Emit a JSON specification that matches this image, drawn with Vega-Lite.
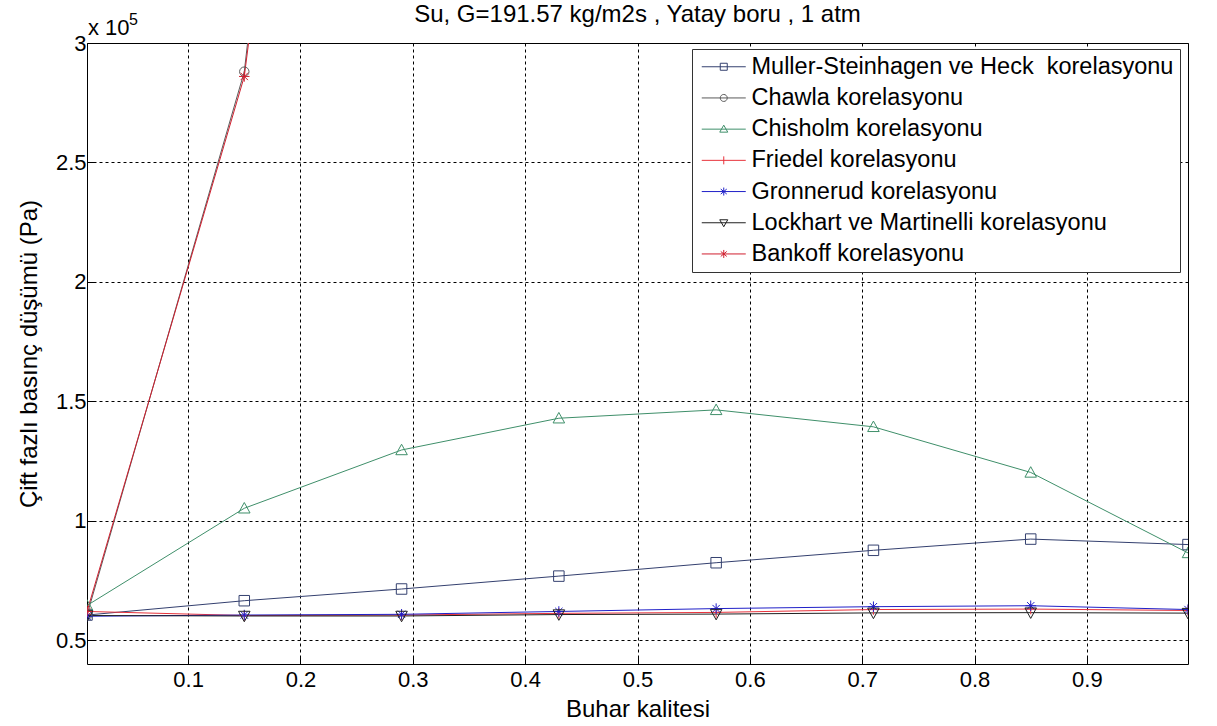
{
  "$schema": "https://vega.github.io/schema/vega-lite/v6.json",
  "width": 1101,
  "height": 621,
  "autosize": {"type": "none"},
  "padding": {"left": 87, "top": 43, "right": 29, "bottom": 62},
  "background": "white",
  "config": {
    "view": {"stroke": "black", "strokeWidth": 1},
    "font": "Liberation Sans",
    "axis": {
      "labelFont": "Liberation Sans", "titleFont": "Liberation Sans",
      "labelColor": "black", "titleColor": "black",
      "labelFontSize": 22, "titleFontSize": 24, "titleFontWeight": "normal",
      "grid": true, "gridColor": "black", "gridDash": [3, 3], "gridOpacity": 1, "gridWidth": 1,
      "domain": false, "ticks": true, "tickColor": "black", "tickSize": -7
    }
  },
  "title": {
    "text": "Su, G=191.57 kg/m2s , Yatay boru , 1 atm",
    "font": "Liberation Sans", "fontSize": 24, "fontWeight": "normal", "color": "black",
    "anchor": "middle", "frame": "group", "offset": -34, "baseline": "alphabetic"
  },
  "data": {"values": [
    {"x": 0.01, "y": 60500, "s": "Muller-Steinhagen ve Heck \u00a0korelasyonu"},
    {"x": 0.15, "y": 66500, "s": "Muller-Steinhagen ve Heck \u00a0korelasyonu"},
    {"x": 0.29, "y": 71400, "s": "Muller-Steinhagen ve Heck \u00a0korelasyonu"},
    {"x": 0.43, "y": 76800, "s": "Muller-Steinhagen ve Heck \u00a0korelasyonu"},
    {"x": 0.57, "y": 82400, "s": "Muller-Steinhagen ve Heck \u00a0korelasyonu"},
    {"x": 0.71, "y": 87600, "s": "Muller-Steinhagen ve Heck \u00a0korelasyonu"},
    {"x": 0.85, "y": 92300, "s": "Muller-Steinhagen ve Heck \u00a0korelasyonu"},
    {"x": 0.99, "y": 90000, "s": "Muller-Steinhagen ve Heck \u00a0korelasyonu"},
    {"x": 0.01, "y": 60500, "s": "Chawla korelasyonu"},
    {"x": 0.15, "y": 288000, "s": "Chawla korelasyonu"},
    {"x": 0.29, "y": 860000, "s": "Chawla korelasyonu"},
    {"x": 0.43, "y": 1520000, "s": "Chawla korelasyonu"},
    {"x": 0.57, "y": 2200000, "s": "Chawla korelasyonu"},
    {"x": 0.71, "y": 2900000, "s": "Chawla korelasyonu"},
    {"x": 0.85, "y": 3600000, "s": "Chawla korelasyonu"},
    {"x": 0.99, "y": 4300000, "s": "Chawla korelasyonu"},
    {"x": 0.01, "y": 64500, "s": "Chisholm korelasyonu"},
    {"x": 0.15, "y": 105200, "s": "Chisholm korelasyonu"},
    {"x": 0.29, "y": 129600, "s": "Chisholm korelasyonu"},
    {"x": 0.43, "y": 142900, "s": "Chisholm korelasyonu"},
    {"x": 0.57, "y": 146400, "s": "Chisholm korelasyonu"},
    {"x": 0.71, "y": 139300, "s": "Chisholm korelasyonu"},
    {"x": 0.85, "y": 120200, "s": "Chisholm korelasyonu"},
    {"x": 0.99, "y": 86500, "s": "Chisholm korelasyonu"},
    {"x": 0.01, "y": 62000, "s": "Friedel korelasyonu"},
    {"x": 0.15, "y": 60300, "s": "Friedel korelasyonu"},
    {"x": 0.29, "y": 60500, "s": "Friedel korelasyonu"},
    {"x": 0.43, "y": 61200, "s": "Friedel korelasyonu"},
    {"x": 0.57, "y": 61600, "s": "Friedel korelasyonu"},
    {"x": 0.71, "y": 62800, "s": "Friedel korelasyonu"},
    {"x": 0.85, "y": 63000, "s": "Friedel korelasyonu"},
    {"x": 0.99, "y": 62400, "s": "Friedel korelasyonu"},
    {"x": 0.01, "y": 60000, "s": "Gronnerud korelasyonu"},
    {"x": 0.15, "y": 60500, "s": "Gronnerud korelasyonu"},
    {"x": 0.29, "y": 60800, "s": "Gronnerud korelasyonu"},
    {"x": 0.43, "y": 62000, "s": "Gronnerud korelasyonu"},
    {"x": 0.57, "y": 63200, "s": "Gronnerud korelasyonu"},
    {"x": 0.71, "y": 64000, "s": "Gronnerud korelasyonu"},
    {"x": 0.85, "y": 64400, "s": "Gronnerud korelasyonu"},
    {"x": 0.99, "y": 62800, "s": "Gronnerud korelasyonu"},
    {"x": 0.01, "y": 60300, "s": "Lockhart ve Martinelli korelasyonu"},
    {"x": 0.15, "y": 60100, "s": "Lockhart ve Martinelli korelasyonu"},
    {"x": 0.29, "y": 60100, "s": "Lockhart ve Martinelli korelasyonu"},
    {"x": 0.43, "y": 60700, "s": "Lockhart ve Martinelli korelasyonu"},
    {"x": 0.57, "y": 60900, "s": "Lockhart ve Martinelli korelasyonu"},
    {"x": 0.71, "y": 61400, "s": "Lockhart ve Martinelli korelasyonu"},
    {"x": 0.85, "y": 61500, "s": "Lockhart ve Martinelli korelasyonu"},
    {"x": 0.99, "y": 61300, "s": "Lockhart ve Martinelli korelasyonu"},
    {"x": 0.01, "y": 62000, "s": "Bankoff korelasyonu"},
    {"x": 0.15, "y": 286000, "s": "Bankoff korelasyonu"},
    {"x": 0.29, "y": 800000, "s": "Bankoff korelasyonu"},
    {"x": 0.43, "y": 1400000, "s": "Bankoff korelasyonu"},
    {"x": 0.57, "y": 2000000, "s": "Bankoff korelasyonu"},
    {"x": 0.71, "y": 2600000, "s": "Bankoff korelasyonu"},
    {"x": 0.85, "y": 3200000, "s": "Bankoff korelasyonu"},
    {"x": 0.99, "y": 3800000, "s": "Bankoff korelasyonu"}
  ]},
  "encoding": {
    "x": {"field": "x", "type": "quantitative",
      "scale": {"domain": [0.01, 0.99], "nice": false, "zero": false},
      "axis": {"title": "Buhar kalitesi", "values": [0.1, 0.2, 0.3, 0.4, 0.5, 0.6, 0.7, 0.8, 0.9], "labelPadding": 12, "titlePadding": 7}},
    "y": {"field": "y", "type": "quantitative",
      "scale": {"domain": [40000, 300000], "nice": false, "zero": false},
      "axis": {"title": "Çift fazlı basınç düşümü (Pa)", "values": [50000, 100000, 150000, 200000, 250000, 300000],
        "labelExpr": "'' + (datum.value / 100000)", "labelPadding": 8, "titlePadding": 14}}
  },
  "layer": [
    {
      "mark": {"type": "line", "clip": true, "strokeWidth": 1},
      "encoding": {
        "color": {"field": "s", "type": "nominal", "legend": null,
          "scale": {"domain": ["Muller-Steinhagen ve Heck \u00a0korelasyonu", "Chawla korelasyonu", "Chisholm korelasyonu", "Friedel korelasyonu", "Gronnerud korelasyonu", "Lockhart ve Martinelli korelasyonu", "Bankoff korelasyonu"],
            "range": ["#34406f", "#5a5a5a", "#3f8f6a", "#e8333c", "#2020c8", "#202020", "#d01f2f"]}}
      }
    },
    {
      "mark": {"type": "point", "clip": true, "filled": false, "strokeWidth": 1, "size": 110, "opacity": 1},
      "encoding": {
        "color": {"field": "s", "type": "nominal", "legend": null,
          "scale": {"domain": ["Muller-Steinhagen ve Heck \u00a0korelasyonu", "Chawla korelasyonu", "Chisholm korelasyonu", "Friedel korelasyonu", "Gronnerud korelasyonu", "Lockhart ve Martinelli korelasyonu", "Bankoff korelasyonu"],
            "range": ["#34406f", "#5a5a5a", "#3f8f6a", "#e8333c", "#2020c8", "#202020", "#d01f2f"]}},
        "shape": {"field": "s", "type": "nominal", "legend": null,
          "scale": {"domain": ["Muller-Steinhagen ve Heck \u00a0korelasyonu", "Chawla korelasyonu", "Chisholm korelasyonu", "Friedel korelasyonu", "Gronnerud korelasyonu", "Lockhart ve Martinelli korelasyonu", "Bankoff korelasyonu"],
            "range": [
              "M-1,-1H1V1H-1Z",
              "M-0.9,0A0.9,0.9,0,1,1,0.9,0A0.9,0.9,0,1,1,-0.9,0Z",
              "M0,-1.1L1.1,0.9H-1.1Z",
              "M-1,0H1M0,-1V1",
              "M-1,0H1M0,-1V1M-0.7,-0.7L0.7,0.7M-0.7,0.7L0.7,-0.7",
              "M0,1.1L1.1,-0.9H-1.1Z",
              "M-1,0H1M0,-1V1M-0.7,-0.7L0.7,0.7M-0.7,0.7L0.7,-0.7"
            ]}}
      }
    },
    {
      "transform": [{"filter": "false"}],
      "mark": {"type": "point", "filled": false, "strokeWidth": 1, "opacity": 1},
      "encoding": {
        "color": {"field": "s", "type": "nominal",
          "scale": {"domain": ["Muller-Steinhagen ve Heck \u00a0korelasyonu", "Chawla korelasyonu", "Chisholm korelasyonu", "Friedel korelasyonu", "Gronnerud korelasyonu", "Lockhart ve Martinelli korelasyonu", "Bankoff korelasyonu"],
            "range": ["#34406f", "#5a5a5a", "#3f8f6a", "#e8333c", "#2020c8", "#202020", "#d01f2f"]},
          "legend": {"title": null, "orient": "none", "legendX": 605, "legendY": 6, "padding": 6,
            "strokeColor": "#333333", "fillColor": "white",
            "labelFont": "Liberation Sans", "labelFontSize": 23.5, "labelColor": "black", "labelLimit": 700,
            "symbolSize": 100, "symbolStrokeWidth": 1, "labelOffset": 16, "symbolOffset": 14, "rowPadding": 6.2}},
        "shape": {"field": "s", "type": "nominal",
          "scale": {"domain": ["Muller-Steinhagen ve Heck \u00a0korelasyonu", "Chawla korelasyonu", "Chisholm korelasyonu", "Friedel korelasyonu", "Gronnerud korelasyonu", "Lockhart ve Martinelli korelasyonu", "Bankoff korelasyonu"],
            "range": [
              "M-4.4,0H4.4M-0.7,-0.7H0.7V0.7H-0.7Z",
              "M-4.4,0H4.4M-0.7,0A0.7,0.7,0,1,1,0.7,0A0.7,0.7,0,1,1,-0.7,0Z",
              "M-4.4,0H4.4M0,-0.8L0.8,0.6H-0.8Z",
              "M-4.4,0H4.4M0,-0.8V0.8",
              "M-4.4,0H4.4M0,-0.8V0.8M-0.6,-0.5L0.6,0.5M-0.6,0.5L0.6,-0.5",
              "M-4.4,0H4.4M0,0.8L0.8,-0.6H-0.8Z",
              "M-4.4,0H4.4M0,-0.8V0.8M-0.6,-0.5L0.6,0.5M-0.6,0.5L0.6,-0.5"
            ]},
          "legend": {"title": null, "orient": "none", "legendX": 605, "legendY": 6, "padding": 6,
            "strokeColor": "#333333", "fillColor": "white",
            "labelFont": "Liberation Sans", "labelFontSize": 23.5, "labelColor": "black", "labelLimit": 700,
            "symbolSize": 100, "symbolStrokeWidth": 1, "labelOffset": 16, "symbolOffset": 14, "rowPadding": 6.2}}
      }
    },
    {
      "data": {"values": [{"x": 0.01, "y": 300000, "t": "x 10"}]},
      "mark": {"type": "text", "align": "left", "baseline": "alphabetic", "dx": 1, "dy": -8, "fontSize": 22, "font": "Liberation Sans", "color": "black"},
      "encoding": {"text": {"field": "t"}}
    },
    {
      "data": {"values": [{"x": 0.01, "y": 300000, "t": "5"}]},
      "mark": {"type": "text", "align": "left", "baseline": "alphabetic", "dx": 42, "dy": -18, "fontSize": 16, "font": "Liberation Sans", "color": "black"},
      "encoding": {"text": {"field": "t"}}
    }
  ],
  "resolve": {"scale": {"color": "independent", "shape": "independent"}, "legend": {"color": "independent", "shape": "independent"}}
}
